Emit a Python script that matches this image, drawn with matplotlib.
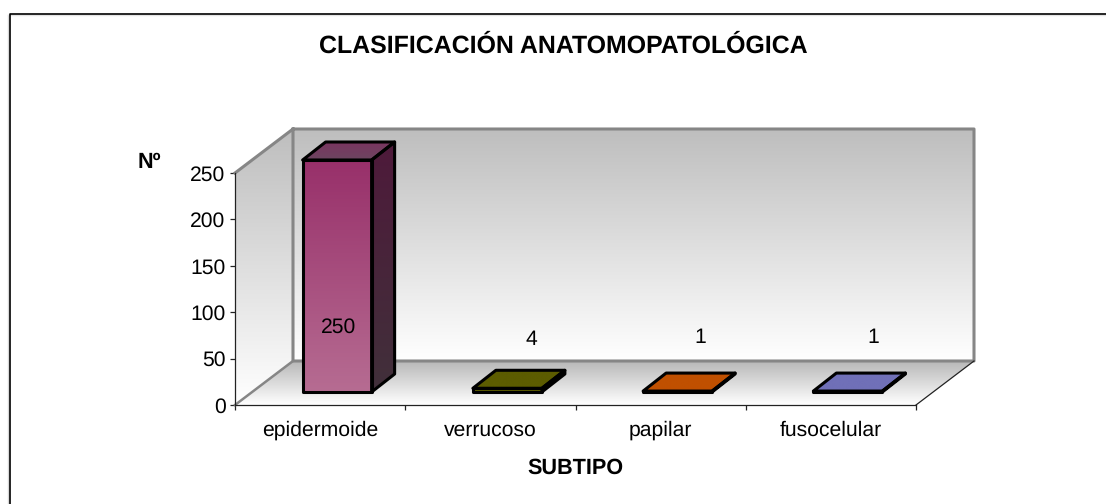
import matplotlib
matplotlib.use("Agg")
import matplotlib.pyplot as plt
import numpy as np
from matplotlib.lines import Line2D
from matplotlib.patches import Polygon

plt.rcParams["font.family"] = ["Liberation Sans", "DejaVu Sans"]
plt.rcParams["text.hinting"] = "no_hinting"

categorias = ["epidermoide", "verrucoso", "papilar", "fusocelular"]
valores = [250, 4, 1, 1]
ticks_y = [0, 50, 100, 150, 200, 250]
titulo = "CLASIFICACIÓN ANATOMOPATOLÓGICA"

FRENTE = ["#98306a", "#5c5c00", "#c05000", "#7070b8"]
FRENTE_B = ["#b66c92", "#5c5c00", "#c05000", "#7070b8"]
LADO = ["#4e1a3a", "#3a3a00", "#7a3300", "#484878"]
LADO_B = ["#41303a", "#3a3a00", "#7a3300", "#484878"]
TECHO = ["#7a3560", "#5c5c00", "#c05000", "#7070b8"]
TECHO_B = ["#6c4660", "#5c5c00", "#c05000", "#7070b8"]

W, H = 1106, 504
PX, PY = 681 / 4, 232 / 250   # pixeles por categoria / por unidad
PROF = (58 / PX, 44 / PY)     # fondo de la caja 3D
F1 = (17 / PX, 13 / PY)       # cara frontal de la barra
F2 = (40 / PX, 31 / PY)       # cara trasera de la barra
ANCHO = 69 / PX
LETRA = 15.2


def degradado(fig, ax, puntos, c_arriba, c_abajo, z):
    puntos = np.array(puntos)
    a = np.array(matplotlib.colors.to_rgb(c_arriba))
    b = np.array(matplotlib.colors.to_rgb(c_abajo))
    t = np.linspace(0, 1, 128)[:, None, None]
    img = a[None, None, :] * (1 - t) + b[None, None, :] * t
    x0, x1 = puntos[:, 0].min(), puntos[:, 0].max()
    y0, y1 = puntos[:, 1].min(), puntos[:, 1].max()
    im = ax.imshow(img, extent=(x0, x1, y0, y1), origin="upper", aspect="auto",
                   zorder=z, interpolation="bilinear")
    p = Polygon(puntos, closed=True, transform=ax.transData, fc="none", ec="none")
    ax.add_patch(p)
    p.set_clip_on(False)
    im.set_clip_path(p)
    im.set_clip_box(fig.bbox)


def main():
    fig = plt.figure(figsize=(W / 100, H / 100), dpi=100, facecolor="white")
    ax = fig.add_axes([235 / W, (H - 405) / H, 681 / W, 232 / H])
    ax.set_facecolor("none")
    for s in ("top", "right"):
        ax.spines[s].set_visible(False)
    for s in ("left", "bottom"):
        ax.spines[s].set_linewidth(0.9)
        ax.spines[s].set_color("#222222")
        ax.spines[s].set_zorder(12)

    dx, dy = PROF
    # paredes
    degradado(fig, ax, [(dx, dy), (4 + dx, dy), (4 + dx, 250 + dy), (dx, 250 + dy)], "#bebebe", "#ffffff", 1)
    degradado(fig, ax, [(0, 0), (dx, dy), (dx, 250 + dy), (0, 250)], "#bebebe", "#ffffff", 1)
    degradado(fig, ax, [(0, 0), (4, 0), (4 + dx, dy), (dx, dy)], "#b8b8b8", "#ffffff", 1)
    gris = dict(color="#868686", lw=2.2, zorder=2, solid_capstyle="projecting", clip_on=False)
    ax.plot([0, dx, 4 + dx, 4 + dx, dx, dx], [250, 250 + dy, 250 + dy, dy, dy, 250 + dy], **gris)
    ax.plot([0, dx], [0, dy], **{**gris, "lw": 1.8})
    ax.plot([4, 4 + dx], [0, dy], color="#222222", lw=0.9, zorder=2, clip_on=False)

    # barras
    alturas_etiqueta = [84, 70, 73, 73]
    centros_etiqueta = [0.61, 0.74, 0.73, 0.75]
    for i, v in enumerate(valores):
        x0 = i + 0.5 - ANCHO / 2 + F1[0]
        x1 = x0 + ANCHO
        y0 = F1[1]
        y1 = y0 + v
        sx, sy = F2[0] - F1[0], F2[1] - F1[1]
        borde = dict(closed=True, fill=False, ec="black", lw=2.2, joinstyle="round",
                     zorder=6, clip_on=False)
        lado = [(x1, y0), (x1 + sx, y0 + sy), (x1 + sx, y1 + sy), (x1, y1)]
        techo = [(x0, y1), (x1, y1), (x1 + sx, y1 + sy), (x0 + sx, y1 + sy)]
        frente = [(x0, y0), (x1, y0), (x1, y1), (x0, y1)]
        degradado(fig, ax, lado, LADO[i], LADO_B[i], 5)
        degradado(fig, ax, techo, TECHO[i], TECHO_B[i], 5)
        degradado(fig, ax, frente, FRENTE[i], FRENTE_B[i], 5)
        for cara in (lado, techo, frente):
            ax.add_patch(Polygon(cara, **borde))
        ax.text(i + centros_etiqueta[i], alturas_etiqueta[i], str(v), ha="center", va="center",
                fontsize=LETRA, color="black", zorder=8, clip_on=False)

    ax.set_xlim(0, 4)
    ax.set_ylim(0, 250)
    ax.set_xticks(range(5))
    ax.set_xticklabels([])
    ax.set_xticks([i + 0.5 for i in range(4)], minor=True)
    ax.set_xticklabels(categorias, minor=True, fontsize=LETRA)
    ax.tick_params(axis="x", which="minor", length=0, pad=11)
    ax.tick_params(axis="x", which="major", length=3.6, width=0.9, color="#222222")
    ax.set_yticks(ticks_y)
    ax.tick_params(axis="y", length=3.6, width=0.9, color="#222222", labelsize=LETRA, pad=3.2)
    ax.set_xlabel("SUBTIPO", fontsize=15.6, fontweight="bold")
    ax.xaxis.set_label_coords(340 / 681, -53 / 232)

    fig.text(149 / W, 1 - 162 / H, "Nº", fontsize=15.6, fontweight="bold", ha="center", va="center")
    fig.text(563 / W, 1 - 46 / H, titulo, fontsize=17.9, fontweight="bold", ha="center", va="center")

    # marco exterior, solo asoman arriba e izquierda
    for xs, ys, c, lw in (
        ([8 / W, 8 / W], [0, 1 - 15 / H], "#d8d8d8", 1),
        ([8 / W, 1], [1 - 15 / H, 1 - 15 / H], "#e4e4e4", 1),
        ([9.5 / W, 9.5 / W, 1], [0, 1 - 13.5 / H, 1 - 13.5 / H], "black", 1.2),
    ):
        fig.add_artist(Line2D(xs, ys, color=c, lw=lw, transform=fig.transFigure))

    ax.set_xlim(0, 4)
    ax.set_ylim(0, 250)
    fig.savefig("out.png", dpi=100, facecolor="white")


if __name__ == "__main__":
    main()
